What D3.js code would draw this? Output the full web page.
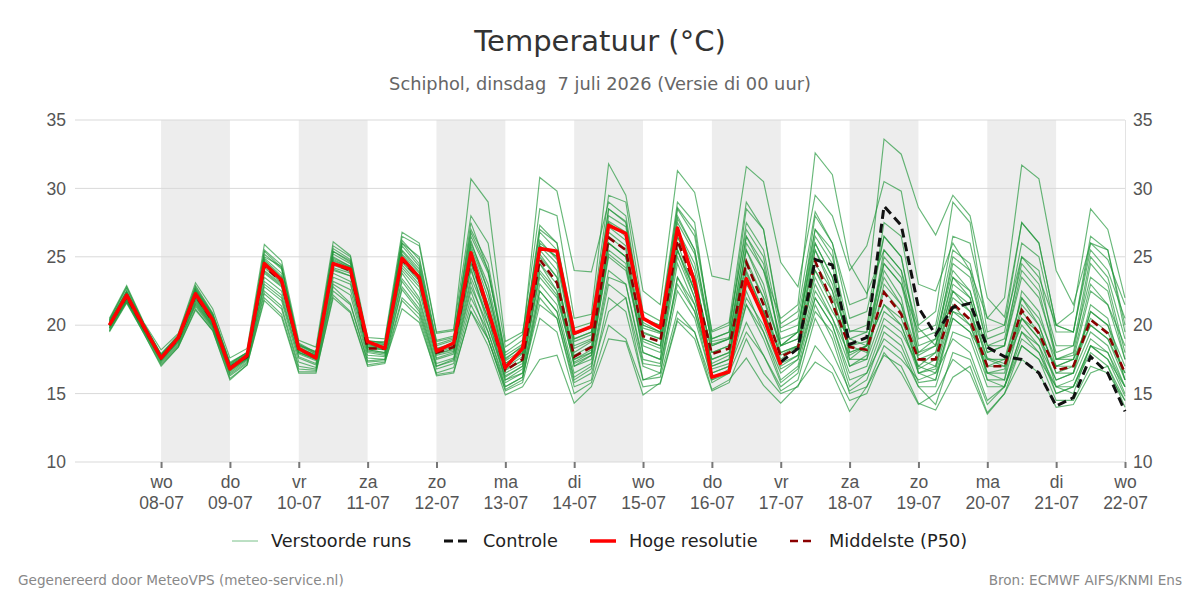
<!DOCTYPE html>
<html>
<head>
<meta charset="utf-8">
<script src="https://cdn.jsdelivr.net/npm/d3@7"></script>
<style>
  body { margin: 0; background: #fff; }
  svg { font-family: "DejaVu Sans", sans-serif; }
  .axis path { display: none; }
  .axis line { stroke: #666; }
  .axis text { fill: #555; font-size: 16px; }
</style>
</head>
<body>
<svg width="1200" height="600"></svg>
<script>
// **** data (6-hourly, first value 7 juli 06 UTC) ****

var dayNames = ['zo', 'ma', 'di', 'wo', 'do', 'vr', 'za'];
var yTicks = [10, 15, 20, 25, 30, 35];

var hres = [20.0,22.2,19.9, 17.6,19.1,22.3,20.4, 16.8,17.8,24.5,23.3, 18.3,17.6,24.5,24.1,
  18.8,18.3,24.9,23.5, 18.1,18.7,25.3,21.1, 16.9,18.3,25.6,25.4, 19.4,19.9,27.3,26.7,
  20.5,19.8,27.1,23.1, 16.2,16.6,23.4,20.6, 17.1];

var controle = [null,null,null, null,null,null,null, null,null,null,null, null,null,null,null,
  null,null,null,null, null,null,null,null, null,null,null,null, null,null,null,null,
  null,null,null,null, null,null,null,null, 17.3,18.3,24.8,24.4, 18.6,19.1,28.7,27.3,
  21.3,19.3,21.3,21.6, 18.4,17.7,17.5,16.5, 14.1,14.7,17.7,16.5, 13.7];

var p50 = [20.0,22.1,19.8, 17.6,19.0,22.2,20.3, 16.9,17.7,24.3,23.2, 18.2,17.7,24.5,24.0,
  18.3,18.3,24.8,23.4, 18.0,18.4,25.0,21.0, 16.7,17.5,24.8,23.1, 17.7,18.4,26.4,25.5,
  19.2,18.8,26.2,23.0, 17.9,18.3,24.6,21.5, 17.7,18.3,24.7,21.6, 18.4,18.2,22.4,20.8,
  17.5,17.5,21.6,20.4, 17.0,17.0,21.1,19.4, 16.7,17.0,20.4,19.4, 16.5];

var members = [
  [20.4,22.8,20.1, 17.9,19.3,22.9,20.9, 17.3,18.0,25.2,24.1, 18.7,18.0,25.6,24.8, 18.9,18.7,26.0,25.0, 18.9,19.2,27.0,24.5, 17.8,18.6,27.3,26.0, 19.3,19.8,28.5,27.6, 20.4,20.0,28.6,26.9, 19.6,20.2,29.0,27.0, 20.1,21.0,28.3,26.0, 21.5,22.0,33.6,32.5, 28.6,26.6,29.5,28.0, 22.0,20.6,27.5,26.0, 20.0,19.5,26.0,24.8, 21.5],
  [20.2,22.5,20.0, 17.8,19.1,22.6,20.7, 17.1,17.9,25.0,24.3, 18.5,18.1,25.4,24.6, 18.7,18.6,26.5,25.8, 19.4,19.6,30.7,29.0, 18.8,19.5,25.8,24.5, 18.3,18.9,27.6,26.8, 19.8,19.4,27.5,25.2, 18.6,19.0,26.5,24.0, 20.5,21.5,32.6,31.0, 24.5,22.3,25.5,24.0, 19.8,18.5,22.5,21.0, 17.6,17.2,22.0,20.5, 17.5,17.8,23.0,21.5, 17.5],
  [20.1,22.3,19.9, 17.7,19.0,22.5,20.6, 17.0,17.8,24.8,23.6, 18.4,17.8,25.0,24.3, 18.6,18.5,25.5,24.1, 18.3,18.7,26.5,23.8, 18.0,18.9,30.8,29.8, 24.0,23.9,29.0,28.0, 20.5,19.8,27.0,24.5, 18.8,19.1,25.5,22.5, 18.5,19.0,26.0,23.5, 19.6,19.5,24.5,23.0, 19.5,20.0,26.5,26.0, 20.5,22.0,31.7,30.7, 24.0,21.5,26.0,25.5, 20.0],
  [20.5,22.9,20.2, 18.2,19.4,23.1,21.2, 17.6,18.3,25.9,24.7, 18.9,18.4,26.1,25.1, 19.1,19.0,26.8,26.0, 19.5,19.7,28.0,26.0, 18.4,19.3,28.5,28.0, 20.5,20.8,31.8,29.5, 22.5,21.5,31.3,29.7, 23.6,23.3,31.6,30.5, 24.6,22.8,29.5,28.0, 24.0,25.8,30.5,29.8, 23.0,22.5,26.0,24.0, 20.5,20.0,25.0,23.5, 20.0,19.5,25.5,24.0, 20.5],
  [19.5,21.6,19.4, 17.0,18.4,21.2,19.6, 16.0,17.1,21.8,20.6, 16.5,16.5,22.2,21.0, 17.1,17.3,21.2,20.2, 16.4,16.6,21.0,18.5, 14.9,15.5,17.5,17.8, 14.3,15.5,19.0,18.8, 14.9,15.8,20.5,19.5, 15.3,16.0,17.6,15.6, 14.3,15.6,17.3,16.5, 13.7,15.5,17.8,17.0, 14.3,13.8,16.2,17.0, 13.6,15.0,17.5,16.5, 14.0,14.2,16.5,17.0, 14.0],
  [19.7,21.8,19.6, 17.3,18.6,21.6,19.9, 16.4,17.3,22.5,21.4, 17.0,16.8,22.8,21.6, 17.4,17.5,22.6,21.0, 16.8,17.2,22.0,19.5, 15.5,16.2,22.0,20.5, 15.8,16.5,21.0,22.0, 16.0,16.5,22.5,20.5, 16.0,16.8,20.2,17.8, 15.2,16.0,20.5,18.0, 15.2,16.0,19.5,18.5, 15.5,14.2,18.0,17.5, 14.2,15.5,19.5,18.0, 15.5,15.0,18.5,17.5, 14.8],
  [20.0,22.2,19.9, 17.6,19.1,22.4,20.5, 16.9,17.8,24.6,23.4, 18.3,17.7,24.8,24.2, 18.6,18.3,25.1,23.6, 18.2,18.7,25.6,22.0, 17.0,17.9,25.8,25.0, 19.0,19.5,27.5,26.5, 20.2,19.5,27.0,24.0, 17.0,17.5,24.0,21.0, 17.8,18.5,25.5,22.5, 17.0,17.8,24.0,22.0, 16.5,16.8,21.0,20.0, 16.5,16.8,20.5,19.0, 16.0,16.5,21.5,20.5, 16.0],
  [19.9,22.0,19.7, 17.5,18.9,22.0,20.2, 16.8,17.6,23.8,22.8, 18.0,17.5,24.0,23.6, 18.2,18.0,24.2,22.8, 17.8,18.1,24.2,20.0, 16.2,17.0,23.5,22.0, 17.2,17.8,25.0,24.0, 18.5,18.0,25.0,22.0, 17.5,18.0,23.5,20.5, 17.0,17.8,23.0,20.5, 17.8,18.5,21.5,20.0, 16.8,17.5,23.0,22.0, 17.5,17.0,20.0,18.5, 16.0,16.5,19.5,18.5, 15.5],
  [20.3,22.5,20.1, 17.8,19.2,22.7,20.8, 17.2,18.0,25.5,24.4, 18.6,18.0,25.8,25.0, 18.8,18.8,26.2,24.8, 18.6,19.0,27.5,24.0, 17.5,18.5,27.0,26.0, 19.8,20.2,29.5,29.0, 21.0,20.3,29.0,27.5, 19.0,19.5,28.5,27.0, 19.8,20.5,27.0,25.0, 19.5,20.0,26.5,25.0, 18.5,19.0,24.5,23.5, 18.5,18.5,24.0,22.5, 17.5,18.0,24.5,23.0, 18.0],
  [20.1,22.0,19.8, 17.6,19.0,22.1,20.1, 16.8,17.6,23.5,22.5, 17.9,17.4,23.8,23.2, 18.1,17.9,23.8,22.0, 17.5,17.9,23.5,20.5, 16.0,16.8,24.0,22.5, 17.0,17.5,25.5,24.5, 18.0,17.5,24.5,21.5, 16.5,17.0,22.5,19.5, 16.5,17.5,22.0,20.0, 16.5,17.0,20.5,19.5, 17.0,18.0,22.0,21.0, 16.5,16.0,22.5,21.0, 17.0,17.5,20.0,19.0, 16.0],
  [19.8,21.9,19.7, 17.5,18.8,21.8,20.0, 16.7,17.5,23.2,22.2, 17.7,17.2,23.5,23.0, 18.0,17.8,23.4,21.8, 17.2,17.6,23.2,19.5, 15.8,16.5,23.0,21.5, 16.5,17.2,24.0,23.0, 17.5,17.2,23.0,21.0, 16.0,16.5,21.5,19.0, 15.8,16.8,21.0,19.5, 15.5,16.5,19.0,18.0, 15.5,15.5,19.5,19.0, 15.5,15.5,19.0,18.0, 15.0,15.5,18.5,18.0, 15.0],
  [20.2,22.3,19.9, 17.7,19.1,22.3,20.4, 17.0,17.7,24.5,23.3, 18.2,17.6,24.6,24.1, 18.4,18.3,24.7,23.3, 18.0,18.4,24.8,21.5, 16.8,17.4,25.2,23.5, 17.5,18.2,26.5,25.5, 19.0,18.5,26.5,23.5, 18.0,18.5,24.8,22.0, 17.5,18.5,24.0,22.0, 18.5,18.8,23.5,21.5, 17.8,18.5,23.5,22.0, 17.0,17.5,22.0,20.0, 16.5,17.0,21.0,20.0, 17.0],
  [20.0,22.0,19.8, 17.5,19.0,21.9,20.0, 16.8,17.6,24.0,23.0, 18.0,17.6,24.2,23.8, 18.3,18.2,24.4,23.0, 17.9,18.2,24.5,20.8, 16.5,17.2,24.5,23.0, 17.8,18.5,26.0,25.0, 19.5,19.0,25.5,22.5, 18.5,19.0,23.0,21.0, 18.0,18.5,23.5,21.0, 19.0,18.5,21.5,20.5, 17.0,16.5,20.5,19.5, 17.5,17.5,20.5,19.0, 17.0,17.0,20.0,19.0, 16.5],
  [20.3,22.4,20.0, 17.8,19.2,22.6,20.7, 17.1,17.9,24.9,23.8, 18.5,17.9,25.2,24.5, 18.7,18.6,25.8,24.3, 18.5,18.9,26.2,22.5, 17.2,18.0,26.0,25.0, 18.5,19.0,28.0,27.2, 20.0,19.5,28.5,26.5, 19.5,20.0,27.0,25.0, 18.5,19.5,26.5,24.5, 17.5,18.5,25.5,24.0, 18.0,18.5,25.0,24.0, 18.5,19.0,24.5,23.0, 18.5,18.5,25.0,23.5, 19.0],
  [19.8,21.8,19.6, 17.4,18.7,21.5,19.8, 16.5,17.4,22.8,21.8, 17.3,16.9,23.0,22.2, 17.6,17.5,22.8,21.2, 17.0,17.4,22.5,19.0, 15.5,16.2,21.5,20.5, 15.5,16.0,22.0,21.0, 16.0,16.2,21.0,19.5, 15.8,16.5,19.5,17.8, 15.5,16.5,21.5,19.0, 15.0,15.5,18.5,17.5, 16.0,16.5,19.0,18.0, 14.5,15.5,18.5,17.5, 15.5,15.5,18.0,17.0, 14.5],
  [20.1,22.2,19.9, 17.6,19.0,22.2,20.3, 16.9,17.7,24.3,23.2, 18.1,17.7,24.4,23.9, 18.4,18.2,24.6,23.2, 17.9,18.3,24.6,21.0, 16.7,17.4,24.5,22.5, 17.5,18.0,26.0,25.0, 19.0,18.5,26.0,22.5, 17.5,18.0,24.5,22.0, 18.5,19.0,25.5,23.0, 18.5,18.0,22.5,21.0, 17.5,17.0,21.5,20.0, 17.0,17.0,21.0,19.5, 17.0,17.5,20.5,19.5, 16.5],
  [20.0,22.1,19.8, 17.6,19.0,22.1,20.2, 16.9,17.7,24.2,23.1, 18.2,17.7,24.5,24.0, 18.4,18.3,24.9,23.5, 18.1,18.5,25.3,21.5, 16.9,17.7,25.0,23.5, 18.0,18.8,26.8,25.8, 19.4,19.0,26.5,23.5, 18.0,18.5,25.5,23.0, 18.0,18.5,24.5,22.5, 19.0,19.5,27.5,26.5, 20.0,21.0,29.0,27.5, 19.5,20.0,27.5,26.0, 20.0,21.0,28.5,27.0, 22.0],
  [19.6,21.7,19.5, 17.2,18.5,21.4,19.7, 16.3,17.2,22.3,21.2, 16.8,16.7,22.5,21.5, 17.3,17.4,22.0,20.8, 16.5,16.9,21.5,19.0, 15.3,16.0,22.5,21.0, 16.0,16.8,23.0,22.0, 17.0,16.5,23.5,21.5, 16.5,17.0,22.0,20.0, 16.8,17.5,22.5,20.5, 17.0,17.5,21.0,20.0, 16.5,17.0,22.5,21.5, 16.0,16.0,20.5,19.5, 15.5,16.0,19.0,18.0, 15.5],
  [20.2,22.4,20.0, 17.7,19.1,22.5,20.5, 17.0,17.8,24.7,23.5, 18.3,17.8,24.9,24.3, 18.5,18.4,25.2,23.8, 18.2,18.6,25.8,22.5, 17.2,18.0,25.5,24.0, 17.0,17.8,26.0,25.0, 18.0,17.5,25.5,22.5, 17.0,17.5,26.0,24.0, 19.0,19.5,27.0,25.5, 18.0,18.5,24.5,23.0, 18.0,19.0,24.0,22.5, 18.0,18.5,25.0,24.0, 17.5,17.5,22.5,21.5, 18.5],
  [19.6,21.7,19.4, 17.1,18.4,21.1,19.6, 16.1,17.1,22.0,20.8, 16.6,16.6,22.0,20.9, 17.0,17.2,21.8,20.5, 16.3,16.5,21.0,19.0, 15.2,15.8,20.5,19.5, 15.0,15.8,20.0,19.0, 15.5,15.7,20.3,19.0, 15.2,15.8,19.0,16.5, 15.0,15.5,18.5,17.0, 14.5,15.0,18.0,16.5, 14.2,15.0,17.5,16.5, 13.5,15.0,18.5,17.5, 14.5,14.5,17.0,16.5, 14.5],
  [20.1,22.3,19.9, 17.7,19.0,22.4,20.4, 17.0,17.8,24.6,23.4, 18.3,17.8,24.7,24.2, 18.5,18.4,25.4,23.9, 18.3,18.6,26.0,23.0, 17.4,18.2,26.2,24.8, 18.8,19.3,27.2,26.2, 20.0,19.5,27.8,25.5, 19.0,19.5,27.5,25.5, 19.5,20.0,26.0,23.5, 18.0,18.5,25.0,23.5, 17.5,18.0,23.5,22.5, 18.0,18.5,23.5,22.0, 18.0,18.5,23.5,22.5, 17.5],
  [19.9,21.9,19.7, 17.5,18.9,22.0,20.1, 16.7,17.6,23.9,22.9, 18.0,17.5,24.1,23.6, 18.2,18.0,24.0,22.5, 17.6,18.0,24.0,20.5, 16.3,17.0,23.8,22.2, 17.3,18.0,25.2,24.2, 18.8,18.3,25.5,22.0, 17.2,17.8,23.8,21.0, 17.2,17.8,24.0,21.5, 17.5,17.5,23.0,21.5, 16.5,16.0,21.0,20.5, 16.5,16.5,21.5,20.0, 16.5,16.5,21.0,20.0, 16.0],
  [20.4,22.7,20.1, 17.9,19.2,22.8,20.8, 17.2,18.0,25.4,24.2, 18.6,17.9,25.4,24.7, 18.8,18.7,26.0,24.5, 18.8,19.1,26.8,24.0, 17.6,18.4,26.8,25.5, 19.0,19.5,28.5,27.5, 20.5,20.0,28.0,25.5, 18.5,19.0,26.5,24.5, 18.5,19.5,28.0,26.0, 20.5,21.0,26.5,25.0, 19.0,19.5,25.5,24.5, 19.0,19.5,26.0,25.0, 19.5,19.5,26.5,25.5, 19.5],
  [19.8,21.8,19.6, 17.4,18.8,21.7,19.9, 16.6,17.5,23.0,22.0, 17.6,17.1,23.2,22.6, 17.8,17.7,23.2,21.5, 17.0,17.5,22.8,20.0, 16.0,16.5,22.5,21.0, 16.2,17.0,23.5,23.0, 17.2,17.0,23.5,21.0, 16.8,17.2,21.5,19.5, 16.0,17.0,22.0,20.0, 16.0,16.5,20.0,19.0, 15.8,16.0,20.5,19.5, 16.0,15.5,19.5,18.5, 15.0,15.5,18.5,17.5, 15.5]
];

var startTime = Date.UTC(2026, 6, 7, 6);
var stepHours = 6;

function timeAt(i) {
    return new Date(startTime + i * stepHours * 3600 * 1000);
}

// **** scales ****

var xScale = d3.scaleUtc()
    .domain([new Date(Date.UTC(2026, 6, 6, 18)), new Date(Date.UTC(2026, 6, 22, 0))])
    .range([75, 1125]);

var yScale = d3.scaleLinear()
    .domain([10, 35]).range([462, 120]);

var svg = d3.select('svg');

// title
svg.append('text')
    .text('Temperatuur (°C)')
    .attr('x', 600).attr('y', 51)
    .attr('text-anchor', 'middle')
    .style('font-size', '29px')
    .style('fill', '#333');

svg.append('text')
    .text('Schiphol, dinsdag  7 juli 2026 (Versie di 00 uur)')
    .attr('x', 600).attr('y', 90)
    .attr('text-anchor', 'middle')
    .attr('xml:space', 'preserve')
    .style('font-size', '17.8px')
    .style('fill', '#666');

// shaded days
var days = d3.utcDay.range(new Date(Date.UTC(2026, 6, 8)), new Date(Date.UTC(2026, 6, 22)));
svg.append('g').selectAll('rect')
    .data(days.filter(function(d, i){ return i % 2 === 0; }))
    .enter().append('rect')
    .attr('x', function(d){ return xScale(d); })
    .attr('width', function(d){ return xScale(d3.utcDay.offset(d, 1)) - xScale(d); })
    .attr('y', yScale(35))
    .attr('height', yScale(10) - yScale(35))
    .style('fill', '#ededed');

// grid
svg.append('g').selectAll('line')
    .data(yTicks)
    .enter().append('line')
    .attr('x1', 75).attr('x2', 1125)
    .attr('y1', function(d){ return yScale(d); })
    .attr('y2', function(d){ return yScale(d); })
    .style('stroke', '#d9d9d9')
    .style('stroke-width', 1);

svg.append('line')
    .attr('x1', 1125.5).attr('x2', 1125.5)
    .attr('y1', yScale(35)).attr('y2', yScale(10))
    .style('stroke', '#e3e3e3');

// y labels both sides
var yLeft = svg.append('g').attr('class', 'axis')
    .attr('transform', 'translate(75,0)')
    .call(d3.axisLeft(yScale).tickValues(yTicks).tickSize(0).tickPadding(9));
yLeft.selectAll('text').style('font-size', '17.5px');

var yRight = svg.append('g').attr('class', 'axis')
    .attr('transform', 'translate(1125,0)')
    .call(d3.axisRight(yScale).tickValues(yTicks).tickSize(0).tickPadding(8));
yRight.selectAll('text').style('font-size', '17.5px');

// x axis
var tickDays = d3.utcDay.range(new Date(Date.UTC(2026, 6, 8)), new Date(Date.UTC(2026, 6, 23)));
var xAxis = svg.append('g').attr('class', 'axis')
    .attr('transform', 'translate(0,462)')
    .call(d3.axisBottom(xScale).tickValues(tickDays).tickSize(6).tickFormat(''));
xAxis.selectAll('line').style('stroke', '#777').style('stroke-width', 2);

xAxis.selectAll('.tick').append('text')
    .attr('y', 26)
    .style('fill', '#555').style('font-size', '17.5px')
    .attr('text-anchor', 'middle')
    .text(function(d){ return dayNames[d.getUTCDay()]; });
xAxis.selectAll('.tick').append('text')
    .attr('y', 47)
    .style('fill', '#555').style('font-size', '17.5px')
    .attr('text-anchor', 'middle')
    .text(function(d){ return d3.utcFormat('%d-%m')(d); });

// **** lines ****

var line = d3.line()
    .defined(function(d){ return d != null; })
    .x(function(d, i){ return xScale(timeAt(i)); })
    .y(function(d){ return yScale(d); });

var plot = svg.append('g');

plot.selectAll('.member')
    .data(members)
    .enter().append('path')
    .attr('class', 'member')
    .attr('d', line)
    .style('fill', 'none')
    .style('stroke', '#20963a')
    .style('stroke-opacity', 0.68)
    .style('stroke-width', 1.15);

plot.append('path')
    .attr('d', line(p50))
    .style('fill', 'none')
    .style('stroke', '#8b0000')
    .style('stroke-width', 2.6)
    .style('stroke-dasharray', '8,5');

plot.append('path')
    .attr('d', line(controle))
    .style('fill', 'none')
    .style('stroke', '#111')
    .style('stroke-width', 3)
    .style('stroke-dasharray', '9,5');

plot.append('path')
    .attr('d', line(hres))
    .style('fill', 'none')
    .style('stroke', '#ff0000')
    .style('stroke-width', 3.5)
    .style('stroke-linejoin', 'round');

// **** legend ****

var legendItems = [
    {label: 'Verstoorde runs', x: 232, color: '#20963a', width: 1, opacity: 0.6, dash: null},
    {label: 'Controle', x: 444, color: '#111', width: 3, opacity: 1, dash: '9,5'},
    {label: 'Hoge resolutie', x: 590, color: '#ff0000', width: 3.5, opacity: 1, dash: null},
    {label: 'Middelste (P50)', x: 790, color: '#8b0000', width: 2.6, opacity: 1, dash: '8,5'}
];

var legend = svg.append('g').attr('transform', 'translate(0,541)');
legendItems.forEach(function(d){
    legend.append('line')
        .attr('x1', d.x).attr('x2', d.x + 26)
        .attr('y1', 0).attr('y2', 0)
        .style('stroke', d.color)
        .style('stroke-width', d.width)
        .style('stroke-opacity', d.opacity)
        .style('stroke-dasharray', d.dash);
    legend.append('text')
        .text(d.label)
        .attr('x', d.x + 39).attr('y', 6)
        .style('font-size', '17.7px')
        .style('fill', '#222');
});

// footer
svg.append('text')
    .text('Gegenereerd door MeteoVPS (meteo-service.nl)')
    .attr('x', 18).attr('y', 585)
    .style('font-size', '13.6px').style('fill', '#888');

svg.append('text')
    .text('Bron: ECMWF AIFS/KNMI Ens')
    .attr('x', 1182).attr('y', 585)
    .attr('text-anchor', 'end')
    .style('font-size', '13.6px').style('fill', '#888');
</script>
</body>
</html>
